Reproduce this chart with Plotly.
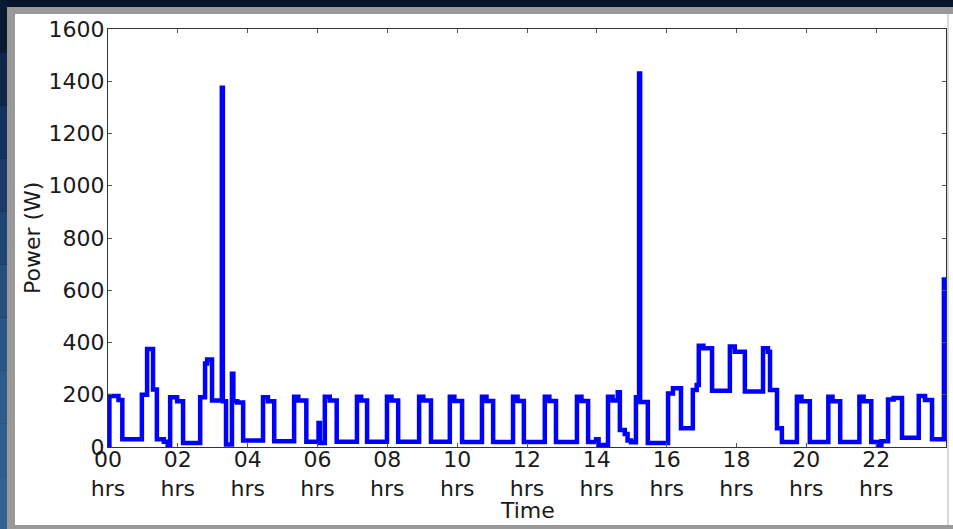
import plotly.graph_objects as go

# Step series: time (hours) at which each level starts, and power level (W)
time_hrs = [
    0.00, 0.04, 0.30, 0.41, 0.97, 1.12, 1.29, 1.40, 1.60, 1.71, 1.78, 1.98, 2.15,
    2.64, 2.78, 2.84, 2.98, 3.26, 3.29, 3.38, 3.55, 3.59, 3.70, 3.87,
    4.44, 4.58, 4.76, 5.33, 5.45, 5.68, 6.03, 6.07, 6.21, 6.35, 6.55,
    7.13, 7.25, 7.42, 7.99, 8.12, 8.31, 8.91, 9.03, 9.25,
    9.79, 9.92, 10.14, 10.71, 10.84, 11.03, 11.60, 11.73, 11.91,
    12.51, 12.64, 12.83, 13.43, 13.56, 13.75, 13.98, 14.05,
    14.32, 14.45, 14.60, 14.66, 14.80, 14.88, 14.98, 15.12, 15.21, 15.24, 15.46,
    16.04, 16.18, 16.41, 16.75, 16.86, 16.92, 17.05, 17.30,
    17.81, 17.95, 18.24, 18.76, 18.90, 18.96, 19.16, 19.30,
    19.73, 19.86, 20.10, 20.63, 20.75, 20.97, 21.52, 21.64, 21.86,
    22.05, 22.15, 22.34, 22.50, 22.74, 23.22, 23.40, 23.60, 23.94,
]
power_w = [
    5, 195, 180, 30, 200, 375, 220, 30, 20, 5, 190, 175, 15,
    190, 320, 335, 178, 1375, 175, 10, 280, 175, 170, 25,
    190, 175, 22, 192, 178, 20, 92, 15, 192, 178, 20,
    192, 178, 20, 192, 178, 20, 192, 178, 20,
    192, 176, 19, 192, 176, 19, 192, 176, 19,
    192, 176, 19, 192, 176, 19, 30, 8,
    192, 178, 210, 65, 50, 25, 18, 190, 1430, 172, 15,
    205, 225, 72, 218, 237, 388, 378, 215,
    385, 365, 212, 378, 365, 218, 72, 19,
    192, 175, 19, 192, 175, 19, 192, 175, 19,
    8, 22, 182, 188, 35, 195, 180, 30, 650,
]

tick_vals = [0, 2, 4, 6, 8, 10, 12, 14, 16, 18, 20, 22]
tick_text = ["00<br>hrs", "02<br>hrs", "04<br>hrs", "06<br>hrs", "08<br>hrs", "10<br>hrs",
             "12<br>hrs", "14<br>hrs", "16<br>hrs", "18<br>hrs", "20<br>hrs", "22<br>hrs"]
y_ticks = [0, 200, 400, 600, 800, 1000, 1200, 1400, 1600]

W, H = 953, 529
L, R, T, B = 108, 7, 29, 82
pw, ph = W - L - R, H - T - B


def px(x):
    return (x - L) / pw


def py(y):
    return (H - B - y) / ph


fig = go.Figure()
fig.add_trace(go.Scatter(
    x=time_hrs, y=power_w, mode="lines", line_shape="hv",
    line=dict(color="#0000ff", width=4.5), showlegend=False,
))

font = dict(family="DejaVu Sans", size=22, color="#1a1a1a")

# dark-blue slide background: left strip gets bluer towards the bottom
strip_cols = ["#0b1a33", "#10264a", "#15305a", "#1a3a68", "#1f4574",
              "#244e7e", "#285686", "#2b5c8c", "#2d5f8e", "#2f6290"]
bg_shapes = []
n = len(strip_cols)
for i, c in enumerate(strip_cols):
    y0 = i * H / n
    y1 = (i + 1) * H / n
    bg_shapes.append(dict(type="rect", xref="paper", yref="paper", layer="below",
                          x0=px(-5), x1=px(7.5), y0=py(y0 - (5 if i == 0 else 0)),
                          y1=py(y1 + (5 if i == n - 1 else 0)),
                          fillcolor=c, line=dict(width=0)))

fig.update_layout(
    width=W, height=H,
    margin=dict(l=L, r=R, t=T, b=B, autoexpand=False),
    paper_bgcolor="#08152b",
    plot_bgcolor="white",
    font=font,
    xaxis=dict(range=[0, 24], tickvals=tick_vals, ticktext=tick_text, automargin=False,
               showgrid=False, zeroline=False, showline=True, linecolor="#333333",
               linewidth=1, mirror="ticks", ticks="inside", ticklen=4,
               tickcolor="#555555", tickfont=font, ticklabelstandoff=-7),
    yaxis=dict(range=[0, 1600], tickvals=y_ticks, showgrid=False, zeroline=False,
               automargin=False, showline=True, linecolor="#333333", linewidth=1,
               mirror="ticks", ticks="inside", ticklen=4, tickcolor="#555555",
               tickfont=font, ticklabelstandoff=-2),
    shapes=bg_shapes + [
        dict(type="rect", xref="paper", yref="paper", layer="below",
             x0=px(7), x1=px(960), y0=py(7), y1=py(540),
             fillcolor="#999999", line=dict(width=0)),
        dict(type="rect", xref="paper", yref="paper", layer="below",
             x0=px(15), x1=px(960), y0=py(14), y1=py(525),
             fillcolor="white", line=dict(width=0)),
        dict(type="line", xref="paper", yref="paper", layer="below",
             x0=px(948), x1=px(948), y0=py(14), y1=py(525),
             line=dict(color="#cccccc", width=1.5)),
    ],
    annotations=[
        dict(text="Time", xref="paper", yref="paper", x=0.5, y=py(511),
             xanchor="center", yanchor="middle", showarrow=False, font=font),
        dict(text="Power (W)", xref="paper", yref="paper", x=px(32), y=0.5,
             xanchor="center", yanchor="middle", textangle=-90, showarrow=False, font=font),
    ],
)

fig.write_html(
    "out.html",
    config={"displayModeBar": False},
    post_script="document.body.style.margin='0';document.body.style.padding='0';"
                "document.body.style.overflow='hidden';",
)
